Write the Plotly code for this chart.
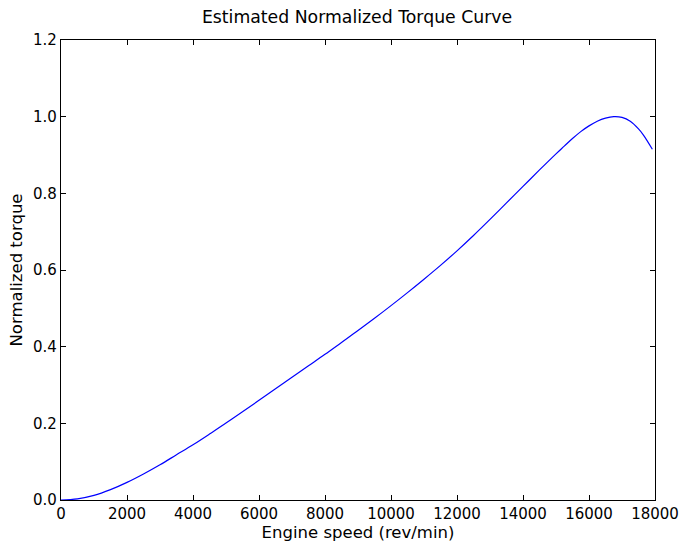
import plotly.graph_objects as go

speed = [0, 500, 1000, 1500, 2000, 2500, 3000, 3500, 4000, 4500, 5000, 5500, 6000,
         6500, 7000, 7500, 8000, 8500, 9000, 9500, 10000, 10500, 11000, 11500, 12000,
         12500, 13000, 13500, 14000, 14500, 15000, 15250, 15500, 15750, 16000, 16250,
         16500, 16750, 17000, 17250, 17500, 17650, 17920]
torque = [0, 0.003, 0.012, 0.027, 0.046, 0.068, 0.092, 0.118, 0.144, 0.172, 0.201, 0.230, 0.260,
          0.290, 0.320, 0.350, 0.380, 0.411, 0.442, 0.474, 0.507, 0.541, 0.576, 0.612, 0.650,
          0.690, 0.732, 0.775, 0.818, 0.861, 0.903, 0.923, 0.943, 0.961, 0.976, 0.988,
          0.996, 1.0, 0.998, 0.988, 0.968, 0.952, 0.915]

x_ticks = [0, 2000, 4000, 6000, 8000, 10000, 12000, 14000, 16000, 18000]
y_ticks = [0.0, 0.2, 0.4, 0.6, 0.8, 1.0, 1.2]

fig = go.Figure()
fig.add_trace(go.Scatter(x=speed, y=torque, mode="lines",
                         line=dict(color="#0000ff", width=1.2, shape="spline", smoothing=1.0)))

fam = "DejaVu Sans"
fig.update_layout(
    width=684, height=543,
    margin=dict(l=61, r=29, t=40, b=43),
    plot_bgcolor="white", paper_bgcolor="white",
    font=dict(family=fam, size=14, color="black"), showlegend=False,
    title=dict(text="Estimated Normalized Torque Curve", x=0.522, xanchor="center",
               y=1 - 17 / 543, yanchor="middle", yref="container",
               font=dict(family=fam, size=17.3, color="black")),
)
axis_common = dict(showline=True, linecolor="black", linewidth=1.2, mirror="ticks",
                   ticks="inside", ticklen=5, tickcolor="black", tickwidth=1,
                   showgrid=False, zeroline=False, automargin=False,
                   tickfont=dict(family=fam, size=15, color="black"))
fig.update_xaxes(range=[0, 18000], tickvals=x_ticks, tickformat="d",
                 title=dict(text="Engine speed (rev/min)", standoff=2,
                            font=dict(family=fam, size=16.5, color="black")), **axis_common)
fig.update_yaxes(range=[0, 1.2], tickvals=y_ticks, tickformat=".1f",
                 title=dict(text="Normalized torque", standoff=6,
                            font=dict(family=fam, size=16.5, color="black")), **axis_common)

fig.write_html("out.html")
